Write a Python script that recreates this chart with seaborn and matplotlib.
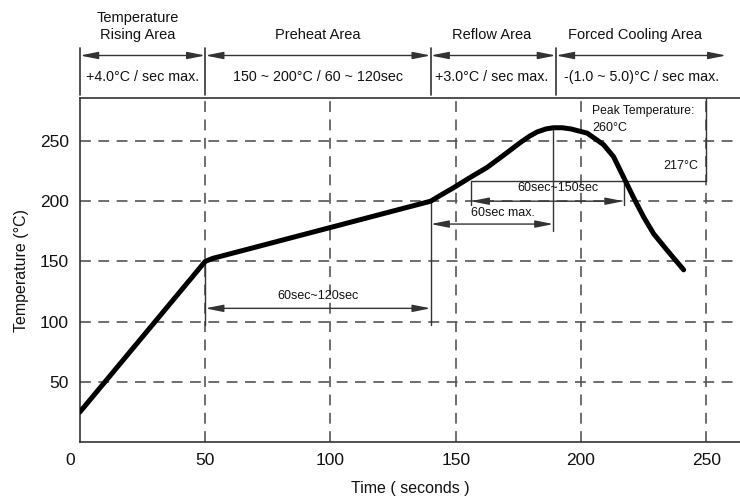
import numpy as np
import pandas as pd
import matplotlib
matplotlib.use("Agg")
import matplotlib.pyplot as plt
from matplotlib.transforms import ScaledTranslation
import seaborn as sns

sns.set_theme(style="white")
plt.rcParams['font.family'] = ['Liberation Sans Narrow', 'Liberation Sans', 'DejaVu Sans']

# reflow profile
time_s = [0, 50, 53, 140, 144, 149, 156, 162.5, 169, 176, 179.5, 182.5, 186, 189, 192.5,
          196, 202.5, 209, 213, 217, 221, 225, 229, 234.5, 241]
temp_c = [25, 150, 152.5, 200, 205, 211, 220, 228, 238, 249, 254, 257.5, 260, 261, 261,
          260, 256.5, 247, 237, 220, 203, 187, 173, 159, 143]

x_ticks = [0, 50, 100, 150, 200, 250]
y_ticks = [50, 100, 150, 200, 250]

zone_edges = [0, 50, 140, 190, 258]
zone_names = ["Temperature\nRising Area", "Preheat Area", "Reflow Area", "Forced Cooling Area"]
zone_rates = ["+4.0°C / sec max.", "150 ~ 200°C / 60 ~ 120sec",
              "+3.0°C / sec max.", "-(1.0 ~ 5.0)°C / sec max."]
zone_name_x = [23, 95, 164.5, 221.5]
zone_rate_x = [25, 95, 164.5, 224]

peak_temp = 260
liquidus = 217

df = pd.DataFrame({"time": time_s, "temp": temp_c})

fig = plt.figure(figsize=(7.4, 4.98), dpi=100)
ax = fig.add_axes([80 / 740, 56 / 498, 660 / 740, 344 / 498])

sns.lineplot(data=df, x="time", y="temp", ax=ax, color="black", linewidth=3.6,
             solid_capstyle="round", solid_joinstyle="round", zorder=5)

ax.set_xlim(0, 263.5)
ax.set_ylim(0, 285.7)
ax.set_xticks(x_ticks)
ax.set_yticks(y_ticks)
ax.tick_params(length=0, pad=8, labelsize=12.5, colors="#111111")
ax.set_xlabel("Time ( seconds )", fontsize=11.5, color="#111111", labelpad=9)
ax.set_ylabel("Temperature (°C)", fontsize=11.5, color="#111111", labelpad=8)
for s in ["left", "bottom", "top"]:
    ax.spines[s].set_color("#333333")
    ax.spines[s].set_linewidth(1.2)
ax.spines["right"].set_visible(False)

# dashed grid
for v in x_ticks[1:]:
    ax.axvline(v, color="#555555", lw=1.2, dashes=(6.5, 4.5), zorder=1)
for v in y_ticks:
    ax.axhline(v, color="#555555", lw=1.2, dashes=(6.5, 4.5), zorder=1)

lc = "#333333"
tc = "#111111"
arrow = dict(arrowstyle="<|-|>,head_length=0.9,head_width=0.18", color=lc, lw=1,
             shrinkA=0, shrinkB=0)

# header zones above the plot
for e in zone_edges[:-1]:
    ax.plot([e, e], [288, 327], color=lc, lw=1.2, clip_on=False)
for i in range(4):
    ax.annotate("", xy=(zone_edges[i], 321), xytext=(zone_edges[i + 1], 321),
                arrowprops=arrow, annotation_clip=False)
    ax.text(zone_name_x[i], 332.5, zone_names[i], ha="center", va="bottom", fontsize=10.5,
            color=tc, linespacing=1.25, clip_on=False)
    ax.text(zone_rate_x[i], 303, zone_rates[i], ha="center", va="center", fontsize=10.3,
            color=tc, clip_on=False)

# preheat duration
ax.plot([50, 50], [150, 97], color=lc, lw=1)
ax.plot([140, 140], [200, 97], color=lc, lw=1)
ax.annotate("", xy=(50, 111), xytext=(140, 111), arrowprops=arrow)
ax.text(95, 121, "60sec~120sec", ha="center", va="center", fontsize=9, color=tc)

# time to peak
ax.plot([189, 189], [peak_temp, 175], color=lc, lw=1)
ax.annotate("", xy=(140, 181), xytext=(189, 181), arrowprops=arrow)
ax.text(156, 190, "60sec max.", ha="left", va="center", fontsize=9, color=tc)

# time above liquidus
ax.plot([156, 250], [liquidus, liquidus], color=lc, lw=1)
ax.plot([156, 156], [liquidus, 197], color=lc, lw=1)
ax.plot([217, 217], [liquidus, 197], color=lc, lw=1)
ax.plot([250, 250], [285.7, liquidus], color=lc, lw=1)
ax.annotate("", xy=(156, 200), xytext=(217, 200), arrowprops=arrow)
ax.text(191, 211, "60sec~150sec", ha="center", va="center", fontsize=9, color=tc)
ax.text(247, 229, f"{liquidus}°C", ha="right", va="center", fontsize=9, color=tc)
ax.text(204.5, 275, "Peak Temperature:", ha="left", va="center", fontsize=8.7, color=tc)
ax.text(204.5, 261, f"{peak_temp}°C", ha="left", va="center", fontsize=9, color=tc)

# the "0" label sits a little left of the axis in the original
lbl = ax.get_xticklabels()[0]
lbl.set_transform(lbl.get_transform() + ScaledTranslation(-0.1, 0, fig.dpi_scale_trans))

fig.savefig("out.png", dpi=100)
